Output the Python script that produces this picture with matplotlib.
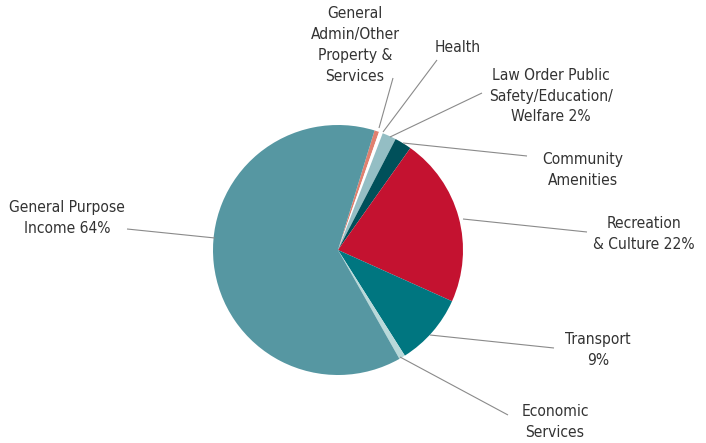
import matplotlib
matplotlib.use("Agg")
import matplotlib.pyplot as plt
from matplotlib import font_manager
import numpy as np

categories = ["General Admin/Other Property & Services", "Health",
              "Law Order Public Safety/Education/Welfare", "Community Amenities",
              "Recreation & Culture", "Transport", "Economic Services",
              "General Purpose Income"]
values = [0.6, 0.5, 1.8, 2.2, 21.9, 9.3, 0.8, 62.9]
colors = ["#e0806f", "#ffffff", "#94bec4", "#00505a", "#c41230", "#007680",
          "#b9d9da", "#5697a2"]
labels = ["General\nAdmin/Other\nProperty &\nServices", "Health",
          "Law Order Public\nSafety/Education/\nWelfare 2%", "Community\nAmenities",
          "Recreation\n& Culture 22%", "Transport\n9%", "Economic\nServices",
          "General Purpose\nIncome 64%"]

W, H = 706, 443
fig = plt.figure(figsize=(W / 100, H / 100), dpi=100)
ax = fig.add_axes([0, 0, 1, 1])

cx, cy, r = 338, H - 250, 125
ax.pie(values, colors=colors, startangle=73, counterclock=False,
       center=(cx, cy), radius=r, wedgeprops=dict(linewidth=0))
ax.set_xlim(0, W)
ax.set_ylim(0, H)
ax.set_aspect("equal")
ax.axis("off")

label_pos = [(355, 45), (458, 47), (551, 96), (583, 170), (644, 234),
             (598, 350), (555, 422), (67, 218)]
leaders = [((393, 78), (379, 128)), ((437, 60), (383, 132)),
           ((482, 93), (390, 137)), ((527, 156), (403, 143)),
           ((587, 232), (463, 219)), ((554, 348), (430, 335)),
           ((508, 415), (400, 357)), ((127, 229), (215, 238))]

names = {f.name for f in font_manager.fontManager.ttflist}
if "Liberation Sans Narrow" in names:
    fp = font_manager.FontProperties(family="Liberation Sans Narrow", size=12.5)
else:
    fp = font_manager.FontProperties(family="DejaVu Sans", stretch="condensed",
                                     size=11.2)

for lab, (x, y) in zip(labels, label_pos):
    ax.text(x, H - y, lab, ha="center", va="center", fontproperties=fp,
            color="#333333", linespacing=1.48)
for (x0, y0), (x1, y1) in leaders:
    ax.plot([x0, x1], [H - y0, H - y1], color="#8a8a8a", lw=0.8,
            solid_capstyle="butt")

fig.savefig("out.png", dpi=100)
